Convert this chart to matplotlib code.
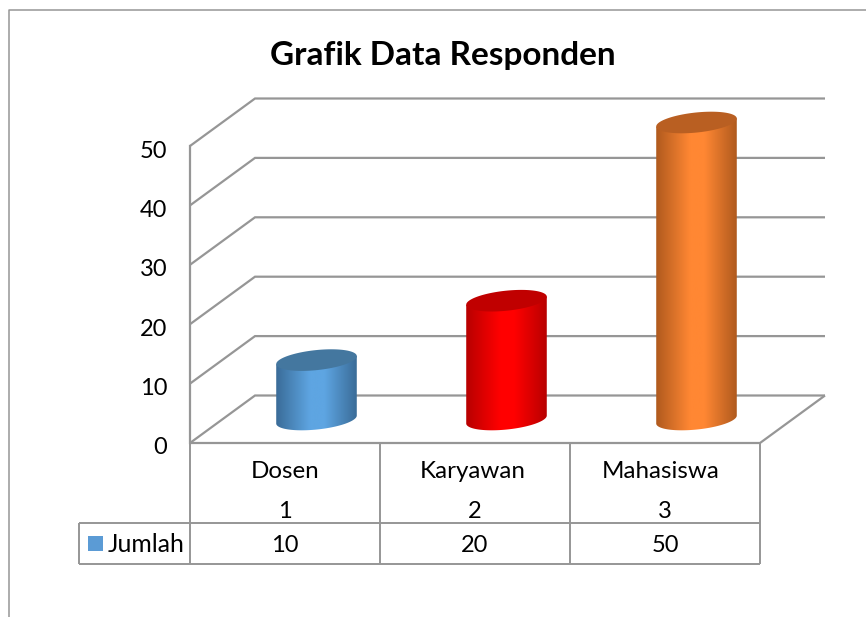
import numpy as np
import matplotlib
matplotlib.use('Agg')
import matplotlib.pyplot as plt
from matplotlib.colors import LinearSegmentedColormap
from matplotlib.patches import Polygon
from matplotlib.transforms import ScaledTranslation

# The data
categories = ['Dosen', 'Karyawan', 'Mahasiswa']
numbers = ['1', '2', '3']
values = [10, 20, 50]
yticks = [0, 10, 20, 30, 40, 50]
series_name = 'Jumlah'
title = 'Grafik Data Responden'

# Colours of each cylinder: edge, middle, top
bar_edge = ['#3a6c98', '#b80000', '#b05a1e']
bar_mid = ['#5ea5e2', '#ff0000', '#ff8733']
bar_top = ['#44779f', '#c00000', '#b95f22']
line_color = '#969696'
legend_color = '#5b9bd5'

W, H = 866, 617
plt.rcParams['font.family'] = ['Lato', 'DejaVu Sans']
label_size = 17.4

fig = plt.figure(figsize=(W / 100, H / 100), dpi=100)

# Axes is the front plane of the chart: 0-3 categories, 0-50 values
left, right, bottom_px, top_px = 190, 760, 443, 146
ax = fig.add_axes([left / W, 1 - bottom_px / H, (right - left) / W, (bottom_px - top_px) / H])
ax.patch.set_visible(False)
ax.set_xlim(0, 3)
ax.set_ylim(0, 50)

px_x = (right - left) / 3
px_y = (bottom_px - top_px) / 50
depth_x = 65 / px_x
depth_y = 47.5 / px_y


def line(xs, ys, lw=1.6, color=line_color):
    ax.plot(xs, ys, color=color, lw=lw, clip_on=False, solid_capstyle='butt',
            solid_joinstyle='miter', zorder=1)


def py(pixel_y):
    # pixel row of the picture to a value on the y axis
    return (bottom_px - pixel_y) / px_y


# Walls and floor
for v in yticks:
    line([0, depth_x, 3 + depth_x], [v, v + depth_y, v + depth_y])
line([0, 3, 3 + depth_x], [0, 0, depth_y])

# Y axis
ax.set_xticks([])
ax.set_yticks(yticks)
ax.tick_params(axis='y', length=0, pad=16.5, labelsize=17, labelcolor='black')
ax.spines[['top', 'right', 'bottom']].set_visible(False)
ax.spines['left'].set_color(line_color)
ax.spines['left'].set_linewidth(1.6)
# tick labels sit a little under their value
shift_down = ScaledTranslation(0, -3 / 100, fig.dpi_scale_trans)
for lab in ax.get_yticklabels():
    lab.set_transform(lab.get_transform() + shift_down)

# Cylinders, the ends are tilted ellipses
tilt = np.radians(6)
t = np.linspace(0, 2 * np.pi, 120, endpoint=False)
ex = 40.5 * np.cos(t) * np.cos(tilt) - 10 * np.sin(t) * np.sin(tilt)
ey = 40.5 * np.cos(t) * np.sin(tilt) + 10 * np.sin(t) * np.cos(tilt)
ex, ey = ex / px_x, ey / px_y
i_left = np.argmin(ex)
i_right = np.argmax(ex)
lower = np.arange(i_left, i_left + 61) % 120

for i, v in enumerate(values):
    cx = i + 0.5 + 31.5 / px_x
    base = 23.5 / px_y
    body = np.concatenate([
        np.column_stack([cx + ex[lower], base + ey[lower]]),
        [[cx + ex[i_right], base + v + ey[i_right]], [cx + ex[i_left], base + v + ey[i_left]]],
    ])
    cmap = LinearSegmentedColormap.from_list(
        'c', [(0, bar_edge[i]), (0.42, bar_mid[i]), (0.6, bar_mid[i]), (1, bar_edge[i])])
    grad = np.linspace(0, 1, 200).reshape(1, -1)
    im = ax.imshow(grad, cmap=cmap, vmin=0, vmax=1, aspect='auto', zorder=3,
                   extent=[cx + ex[i_left], cx + ex[i_right], base - 3, base + v + 1])
    shape = Polygon(body, closed=True, facecolor='none', edgecolor='none',
                    transform=ax.transData, clip_on=False)
    ax.add_patch(shape)
    im.set_clip_box(fig.bbox)
    im.set_clip_path(shape)
    ax.fill(cx + ex, base + v + ey, color=bar_top[i], lw=0, zorder=4, clip_on=False)

ax.set_xlim(0, 3)
ax.set_ylim(0, 50)

# Data table under the chart
row1, row2, table_left = py(523), py(564), -111 / px_x
for x in range(4):
    line([x, x], [0, row2], lw=1.4)
line([table_left, 3], [row1, row1], lw=1.4)
line([table_left, 3], [row2, row2], lw=1.4)
line([table_left, table_left], [row1, row2], lw=1.4)

# category labels are not quite centred in the picture
label_shift = [0, -2 / px_x, -4 / px_x]
for i, cat in enumerate(categories):
    ax.text(i + 0.5 + label_shift[i], py(472), cat, ha='center', va='center', fontsize=label_size, clip_on=False)
    ax.text(i + 0.5, py(511), numbers[i], ha='center', va='center', fontsize=17, clip_on=False)
    ax.text(i + 0.5, py(545), str(values[i]), ha='center', va='center', fontsize=17, clip_on=False)

# Legend key inside the table
fig.patches.append(plt.Rectangle((88 / W, 1 - 551 / H), 15 / W, 15 / H, transform=fig.transFigure,
                                 facecolor=legend_color, edgecolor='none'))
fig.text(108 / W, 1 - 544 / H, series_name, ha='left', va='center', fontsize=17.8)

# Title
fig.text(443 / W, 1 - 56 / H, title, ha='center', va='center', fontsize=24, fontweight='bold')

# Chart border, cut by the picture edges
fig.add_artist(plt.Line2D([8.5 / W, 8.5 / W, 1], [0, 1 - 9.5 / H, 1 - 9.5 / H], color=line_color, lw=1.1))

fig.savefig('out.png', dpi=100, facecolor='white')
